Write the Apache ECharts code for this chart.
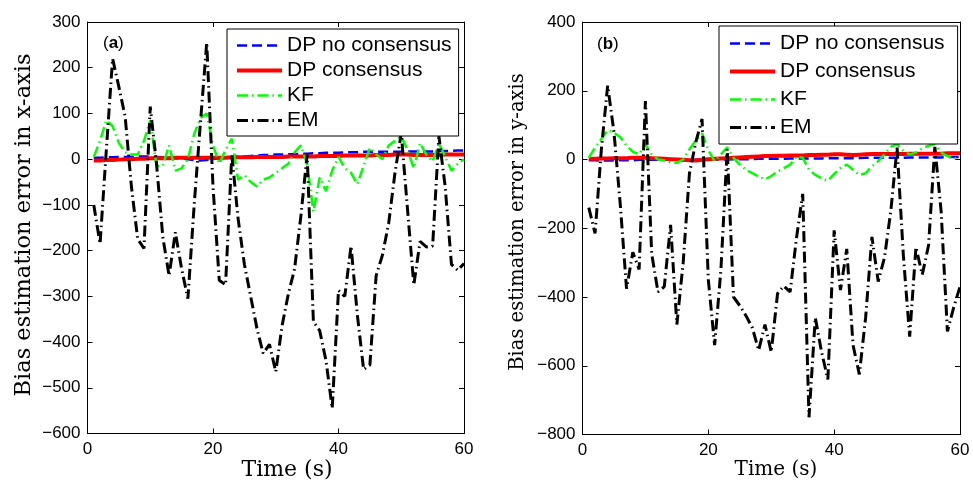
<!DOCTYPE html>
<html>
<head>
<meta charset="utf-8">
<title>Bias estimation error</title>
<script src="https://cdn.jsdelivr.net/npm/echarts@6/dist/echarts.min.js"></script>
<style>
  html, body { margin: 0; padding: 0; background: #fff; }
  #main { width: 973px; height: 492px; }
</style>
</head>
<body>
<div id="main"></div>
<script>
// time samples (s), shared by every series
var time = [1,2,3,4,5,6,7,8,9,10,11,12,13,14,15,16,17,18,19,20,
            21,22,23,24,25,26,27,28,29,30,31,32,33,34,35,36,37,38,39,40,
            41,42,43,44,45,46,47,48,49,50,51,52,53,54,55,56,57,58,59,60];

// (a) x-axis
var xNoCons = [3,3,4,4,5,5,5,6,6,6, 5,4,3,2,2,0,-2,-3,-2,0,
               2,3,4,5,6,7,8,9,9,10, 10,11,11,12,12,13,13,14,14,14,
               15,15,15,16,16,16,16,16,16,16, 17,17,17,17,17,18,18,18,19,19];
var xCons = [-3,-3,-2,-2,-1,0,0,1,1,2, 2,2,2,3,3,3,3,3,3,3,
             3,3,4,4,4,4,5,5,5,5, 5,6,6,6,6,6,7,7,7,7,
             8,8,8,8,8,9,9,9,10,10, 10,9,9,9,9,9,10,10,10,10];
var xKF = [5,40,85,72,35,15,10,10,40,85, -15,-15,30,-25,-20,0,55,90,100,30,
           -10,20,45,-45,-35,-50,-60,-45,-40,-30, -20,-10,15,30,-10,-115,-40,-70,-25,5,
           -20,-30,-55,-15,25,10,0,30,40,50, 20,-20,35,10,-5,35,5,-25,-10,0];
var xEM = [-100,-185,20,220,158,93,-60,-175,-195,115, -10,-170,-255,-160,-240,-305,-100,80,255,-60,
           -265,-275,10,-130,-230,-300,-370,-425,-405,-465, -365,-295,-240,-125,10,-355,-375,-440,-545,-287,
           -300,-190,-340,-460,-450,-255,-210,-140,-30,57, -110,-275,-180,-192,-190,50,-60,-230,-243,-228];

// (b) y-axis
var yNoCons = [-2,-2,-3,-3,-3,-2,-2,-2,-1,-1, -1,-1,0,0,-1,-2,-2,-1,0,0,
               0,0,0,1,1,1,1,2,2,2, 2,2,3,3,3,3,3,3,4,4,
               4,4,4,4,5,5,5,5,5,5, 5,6,6,6,6,6,6,7,7,7];
var yCons = [2,2,3,3,4,4,4,5,5,5, 4,3,2,1,0,-1,-2,-3,-1,1,
             2,3,4,5,6,7,8,9,10,10, 11,11,12,12,12,13,13,14,14,15,
             15,14,13,14,15,16,16,16,16,16, 16,17,17,17,17,17,17,18,18,18];
var yKF = [5,35,60,85,78,65,40,22,15,45, 15,0,-3,-8,-10,0,30,55,76,27,
           -5,15,35,5,-15,-30,-40,-50,-58,-48, -35,-25,-15,8,5,-30,-45,-55,-62,-42,
           -25,-15,-30,-45,-40,-20,-5,15,37,45, 25,15,20,32,40,45,20,10,4,3];
var yEM = [-140,-215,30,215,80,-130,-376,-270,-320,170, -275,-385,-370,-190,-480,-300,-40,50,118,-350,
           -540,-320,30,-400,-425,-455,-490,-555,-480,-560, -390,-368,-385,-230,-100,-750,-460,-560,-640,-206,
           -380,-260,-540,-625,-460,-225,-355,-285,-150,35, -280,-515,-255,-335,-250,37,-150,-500,-430,-370];

var names = ['DP no consensus', 'DP consensus', 'KF', 'EM'];
var looks = {
  'DP no consensus': { color: '#0000ff', width: 2.5, type: [10, 5] },
  'DP consensus':    { color: '#ff0000', width: 4,   type: 'solid' },
  'KF':              { color: '#00ff00', width: 2.5, type: [11, 4, 1.5, 4] },
  'EM':              { color: '#000000', width: 3,   type: [11, 4, 1.5, 4] }
};

var sansFont = 'Liberation Sans';
var serifFont = 'DejaVu Serif';

function pairs(vals) {
  return time.map(function (t, i) { return [t, vals[i]]; });
}

function minusFmt(v) { return String(v).replace('-', '\u2212'); }

function xAx(grid, pos, labels) {
  return {
    type: 'value', gridIndex: grid, position: pos,
    min: 0, max: 60, interval: 20,
    axisLine: { show: true, onZero: false, lineStyle: { color: '#000', width: 1 } },
    axisTick: { show: true, inside: true, length: 5, lineStyle: { color: '#000' } },
    axisLabel: { show: labels, color: '#000', fontSize: 17, fontFamily: sansFont, margin: 7 },
    splitLine: { show: false }
  };
}
function yAx(grid, pos, labels, mn, mx, step) {
  return {
    type: 'value', gridIndex: grid, position: pos,
    min: mn, max: mx, interval: step,
    axisLine: { show: true, onZero: false, lineStyle: { color: '#000', width: 1 } },
    axisTick: { show: true, inside: true, length: 5, lineStyle: { color: '#000' } },
    axisLabel: { show: labels, color: '#000', fontSize: 17, fontFamily: sansFont, margin: 7, formatter: minusFmt },
    splitLine: { show: false }
  };
}

function mkSeries(name, vals, axisIdx) {
  var lk = looks[name];
  return {
    name: name, type: 'line', xAxisIndex: axisIdx, yAxisIndex: axisIdx,
    data: pairs(vals), symbol: 'none', showSymbol: false, smooth: false,
    lineStyle: { color: lk.color, width: lk.width, type: lk.type, cap: 'butt' },
    itemStyle: { color: lk.color },
    emphasis: { disabled: true }
  };
}

function mkLegend(left, top, gap, pad) {
  return {
    data: names, orient: 'vertical', left: left, top: top,
    itemWidth: 45, itemHeight: 14, itemGap: gap, padding: pad,
    borderColor: '#000', borderWidth: 1, backgroundColor: '#fff',
    selectedMode: false,
    lineStyle: { width: 'inherit' },
    // hide the marker circle that line series put in the legend icon
    itemStyle: { opacity: 0, color: 'rgba(0,0,0,0)', borderWidth: 0 },
    textStyle: { fontSize: 21, fontFamily: sansFont, color: '#000', lineHeight: 21 }
  };
}

function label(x, y, letter) {
  return {
    type: 'text', x: x, y: y,
    style: {
      text: '({b|' + letter + '})', fill: '#000',
      font: '17px ' + sansFont, align: 'left', verticalAlign: 'middle',
      rich: { b: { fontWeight: 'bold', fontSize: 17, fontFamily: sansFont, fill: '#000' } }
    }
  };
}
function title(x, y, text, size, rot) {
  return {
    type: 'text', x: x, y: y, rotation: rot ? Math.PI / 2 : 0,
    style: { text: text, fill: '#000', font: size + 'px "' + serifFont + '"', align: 'center', verticalAlign: 'middle' }
  };
}

var chart = echarts.init(document.getElementById('main'), null, { renderer: 'canvas' });
chart.setOption({
  animation: false,
  backgroundColor: '#fff',
  grid: [
    { left: 87.5, right: 509, top: 22, bottom: 58.5 },
    { left: 582.5, right: 13, top: 22, bottom: 57.5 }
  ],
  xAxis: [xAx(0, 'bottom', true), xAx(0, 'top', false), xAx(1, 'bottom', true), xAx(1, 'top', false)],
  yAxis: [
    yAx(0, 'left', true, -600, 300, 100), yAx(0, 'right', false, -600, 300, 100),
    yAx(1, 'left', true, -800, 400, 200), yAx(1, 'right', false, -800, 400, 200)
  ],
  legend: [
    mkLegend(227, 29, 4, [6, 7, 5, 8]),
    mkLegend(719, 26, 7, [7, 13, 6, 9])
  ],
  series: [
    mkSeries('DP no consensus', xNoCons, 0),
    mkSeries('DP consensus', xCons, 0),
    mkSeries('KF', xKF, 0),
    mkSeries('EM', xEM, 0),
    mkSeries('DP no consensus', yNoCons, 2),
    mkSeries('DP consensus', yCons, 2),
    mkSeries('KF', yKF, 2),
    mkSeries('EM', yEM, 2)
  ],
  graphic: [
    label(103, 43, 'a'),
    label(597, 44, 'b'),
    title(287, 470, 'Time (s)', 22, false),
    title(776, 470, 'Time (s)', 20, false),
    title(24, 225, 'Bias estimation error in x-axis', 22.5, true),
    title(518, 222, 'Bias estimation error in y-axis', 19.5, true)
  ]
});
</script>
</body>
</html>
